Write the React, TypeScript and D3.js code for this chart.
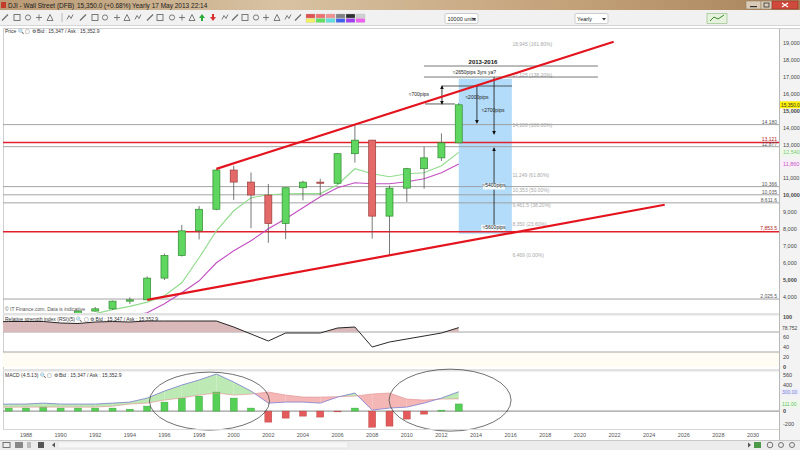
import React from "react";
import * as d3 from "d3";

// ---- Yearly Wall Street (DJI) candles ----
const YEARS = [1986, 1987, 1988, 1989, 1990, 1991, 1992, 1993, 1994, 1995, 1996, 1997, 1998, 1999, 2000, 2001, 2002, 2003, 2004, 2005, 2006, 2007, 2008, 2009, 2010, 2011, 2012, 2013];
const OPEN = [1547, 1896, 1939, 2169, 2753, 2634, 3169, 3301, 3754, 3834, 5117, 6448, 7908, 9181, 11497, 10787, 10021, 8341, 10453, 10783, 10717, 12463, 13264, 8776, 10428, 11577, 12217, 13104];
const HIGH = [1955, 2722, 2184, 2791, 3000, 3169, 3413, 3794, 3978, 5216, 6560, 8259, 9374, 11568, 11750, 11350, 10673, 10462, 10868, 10984, 12510, 14198, 13279, 10580, 11625, 12876, 13661, 15450];
const LOW = [1502, 1739, 1879, 2144, 2365, 2470, 3136, 3241, 3593, 3832, 5000, 6391, 7400, 9120, 9731, 8062, 7197, 7416, 9708, 10000, 10667, 11939, 7449, 6470, 9614, 10404, 12035, 13100];
const CLOSE = [1896, 1939, 2169, 2753, 2634, 3169, 3301, 3754, 3834, 5117, 6448, 7908, 9181, 11497, 10787, 10021, 8341, 10453, 10783, 10717, 12463, 13264, 8776, 10428, 11577, 12217, 13104, 15350];

// ---- moving averages ----
const FAST_MA_YEARS = [1991, 1992, 1993, 1994, 1995, 1996, 1997, 1998, 1999, 2000, 2001, 2002, 2003, 2004, 2005, 2006, 2007, 2008, 2009, 2010, 2011, 2012, 2013];
const FAST_MA = [2850, 3020, 3250, 3450, 3700, 4073, 4840, 6317, 7912, 9093, 9861, 10038, 10097, 10100, 10110, 10629, 11574, 11279, 11102, 11279, 11338, 11750, 12540];
const SLOW_MA_YEARS = [1994, 1995, 1996, 1997, 1998, 1999, 2000, 2001, 2002, 2003, 2004, 2005, 2006, 2007, 2008, 2009, 2010, 2011, 2012, 2013];
const SLOW_MA = [2850, 3070, 3600, 4250, 4959, 6022, 6731, 7322, 8030, 8621, 9270, 9920, 10452, 10747, 10688, 10688, 10806, 10984, 11338, 11860];

// ---- RSI(5) ----
const RSI = [90, 91, 91, 91, 88, 87, 90, 91, 90, 92, 92, 92, 92, 92, 80, 66, 52, 68, 68, 68, 78, 80, 40, 50, 56, 62, 68, 78.752];

// ---- MACD(4,5,13) ----
const MACD_YEARS = [1986, 1987, 1988, 1989, 1990, 1991, 1992, 1993, 1994, 1995, 1996, 1997, 1998, 1999, 2000, 2001, 2002, 2003, 2004, 2005, 2006, 2007, 2008, 2009, 2010, 2011, 2012, 2013];
const MACD = [100, 109, 109, 124, 109, 109, 109, 124, 140, 202, 311, 404, 482, 575, 451, 311, 124, 140, 140, 124, 218, 280, 16, 47, 62, 124, 202, 300];
const MACD_HIST = [40, 47, 47, 62, 47, 47, 47, 47, 30, 78, 140, 200, 233, 295, 202, 47, -171, -109, -78, -93, -5, 47, -250, -233, -124, -47, 15, 111];

// ---- axes ----
const X_TICKS = [1988, 1990, 1992, 1994, 1996, 1998, 2000, 2002, 2004, 2006, 2008, 2010, 2012, 2014, 2016, 2018, 2020, 2022, 2024, 2026, 2028, 2030];
const PRICE_TICKS = [4000, 5000, 6000, 7000, 8000, 9000, 10000, 11000, 13000, 14000, 15000, 16000, 17000, 18000, 19000];
const PRICE_BOLD = [5000, 10000, 15000];
const RSI_TICKS = [0, 20, 40, 60, 100];
const RSI_BANDS = [30, 70];
const MACD_TICKS = [-200, 0, 400, 560];

// ---- horizontal levels ----
const LEVEL_VALUES = [14180, 12877, 10520, 10035, 9560, 3880];
const LEVEL_LABELS = ["14,180", "12,877", "10,366", "10,035", "8,611.6", "2,025.5"];
const RED_LEVEL_VALUES = [13121, 7853.5];
const RED_LEVEL_LABELS = ["13,121", "7,853.5"];

// ---- Fibonacci extension ----
const FIB_VALUES = [18945, 17125, 14180, 11234, 10325, 9415, 8289, 6469];
const FIB_LABELS = ["18,945 (161.80%)", "17,125 (138.20%)", "14,180 (100.00%)", "11,249 (61.80%)", "10,353 (50.00%)", "9,461.5 (38.20%)", "8,350 (23.60%)", "6,469 (0.00%)"];

// ---- trend channel (year, price) ----
const UPPER_TREND = [[1999, 11568], [2021.95, 19075]];
const LOWER_TREND = [[1995, 3832], [2024.9, 9450]];

const FONT = "'Liberation Sans', Arial, sans-serif";

type Pt = [number, number];

function fillBetween(xs: number[], a: number[], b: number[]) {
  const polys: { up: boolean; pts: Pt[] }[] = [];
  for (let i = 0; i < xs.length - 1; i++) {
    const x0 = xs[i], x1 = xs[i + 1];
    const a0 = a[i], a1 = a[i + 1], b0 = b[i], b1 = b[i + 1];
    const d0 = b0 - a0, d1 = b1 - a1; // pixel space: a above b when a < b
    if (d0 * d1 < 0) {
      const t = d0 / (d0 - d1);
      const xm = x0 + t * (x1 - x0);
      const ym = a0 + t * (a1 - a0);
      polys.push({ up: d0 > 0, pts: [[x0, a0], [xm, ym], [x0, b0]] });
      polys.push({ up: d1 > 0, pts: [[xm, ym], [x1, a1], [x1, b1]] });
    } else {
      polys.push({ up: d0 + d1 >= 0, pts: [[x0, a0], [x1, a1], [x1, b1], [x0, b0]] });
    }
  }
  return polys;
}

function ToolIcon({ x, kind }: { x: number; kind: number }) {
  const c = "#6d6d6d";
  const y = 17.5;
  switch (kind % 6) {
    case 0:
      return <path d={`M${x - 3},${y + 3} L${x + 3},${y - 3}`} stroke={c} strokeWidth={1.2} />;
    case 1:
      return <rect x={x - 3} y={y - 3} width={6} height={6} fill="none" stroke={c} strokeWidth={0.9} />;
    case 2:
      return <circle cx={x} cy={y} r={2.6} fill="none" stroke={c} strokeWidth={0.9} />;
    case 3:
      return <path d={`M${x - 3},${y} L${x + 3},${y} M${x},${y - 3} L${x},${y + 3}`} stroke={c} strokeWidth={0.9} />;
    case 4:
      return <path d={`M${x - 3},${y + 3} L${x},${y - 3} L${x + 3},${y + 3} Z`} fill="none" stroke={c} strokeWidth={0.9} />;
    default:
      return <path d={`M${x - 3},${y + 2} L${x - 1},${y - 2} L${x + 1},${y + 1} L${x + 3},${y - 3}`} fill="none" stroke={c} strokeWidth={0.9} />;
  }
}

export default function App() {
  const W = 800, H = 450;
  const AX = 779; // right edge of plotting area
  const x = d3.scaleLinear().domain([1988, 2030]).range([26, 753]);
  const yP = d3.scaleLinear().domain([4000, 19000]).range([297, 43]);
  const yR = d3.scaleLinear().domain([0, 100]).range([367, 317]);
  const yM = d3.scaleLinear().domain([-200, 560]).range([424, 375]);

  const fmt = d3.format(",");
  const bodyW = 7;

  const maLine = d3.line<[number, number]>().x(d => x(d[0])).y(d => yP(d[1]));
  const fastPath = maLine(FAST_MA_YEARS.map((yr, i) => [yr, FAST_MA[i]]))!;
  const slowPath = maLine(SLOW_MA_YEARS.map((yr, i) => [yr, SLOW_MA[i]]))!;

  const rsiPts: [number, number][] = YEARS.map((yr, i) => [yr, RSI[i]]);
  const rsiLine = d3.line<[number, number]>().x(d => x(d[0])).y(d => yR(d[1]))(rsiPts)!;
  const rsiArea = d3.area<[number, number]>().x(d => x(d[0])).y0(yR(70)).y1(d => yR(d[1]))(rsiPts)!;

  const macdX = MACD_YEARS.map(yr => x(yr));
  const macdY = MACD.map(v => yM(v));
  const sigY = MACD.map((v, i) => yM(v - MACD_HIST[i]));
  const macdPolys = fillBetween(macdX, macdY, sigY);
  const macdLine = d3.line<number>().x((_, i) => macdX[i]).y(d => d);

  const trend = d3.line<number[]>().x(d => x(d[0])).y(d => yP(d[1]));

  const tiny = { fontFamily: FONT, fontSize: 5 } as const;

  // annotation geometry in year / price units
  const blueRect = { x0: 2013.0, x1: 2016.07, p0: 16890, p1: 7740 };

  const toolIcons = [5, 17, 28, 39, 50, 70, 83, 95, 105, 117, 127, 138, 150, 160, 172, 182, 192, 225, 235, 245, 256, 266, 277, 288, 298];
  const palette = ["#e05050", "#f07070", "#f09090", "#808080", "#303030", "#d0d0d0", "#f0f060", "#60e060", "#60e0e0", "#4060f0", "#a040f0", "#f060f0"];

  return (
    <svg width={W} height={H} style={{ position: "absolute", left: 0, top: 0, background: "#fff" }}>
      <defs>
        <linearGradient id="titleGrad" x1="0" x2="1" y1="0" y2="0">
          <stop offset="0" stopColor="#b99a74" />
          <stop offset="0.35" stopColor="#d8c2a2" />
          <stop offset="0.7" stopColor="#c4a27a" />
          <stop offset="1" stopColor="#a8845c" />
        </linearGradient>
        <clipPath id="pricePanel">
          <rect x={3} y={28} width={AX - 3} height={285} />
        </clipPath>
        <clipPath id="rsiPanel">
          <rect x={3} y={316} width={AX - 3} height={53} />
        </clipPath>
        <clipPath id="rsiAbove">
          <rect x={3} y={316} width={AX - 3} height={yR(70) - 316} />
        </clipPath>
        <clipPath id="macdPanel">
          <rect x={3} y={371} width={AX - 3} height={58} />
        </clipPath>
        <marker id="arr" viewBox="0 0 6 6" refX="5" refY="3" markerWidth="5" markerHeight="5" orient="auto-start-reverse">
          <path d="M0,0 L6,3 L0,6 Z" fill="#111" />
        </marker>
      </defs>

      {/* window title bar */}
      <rect x={0} y={0} width={W} height={10} fill="url(#titleGrad)" />
      <rect x={1} y={2} width={5} height={6} fill="#c23b2b" />
      <text x={8} y={7.5} style={{ fontFamily: FONT, fontSize: 6.5 }} fill="#222">
        DJI - Wall Street (DFB)
      </text>
      <text x={77} y={7.5} style={{ fontFamily: FONT, fontSize: 6.5 }} fill="#222">
        15,350.0 (+0.68%)
      </text>
      <text x={132} y={7.5} style={{ fontFamily: FONT, fontSize: 6.5 }} fill="#222">
        Yearly  17 May 2013 22:14
      </text>
      <rect x={746} y={1} width={15} height={8} fill="#d9cbb7" stroke="#8f7a5e" strokeWidth={0.5} />
      <rect x={750} y={6} width={7} height={1.2} fill="#333" />
      <rect x={761} y={1} width={11} height={8} fill="#d9cbb7" stroke="#8f7a5e" strokeWidth={0.5} />
      <rect x={764} y={3} width={5} height={4} fill="none" stroke="#333" strokeWidth={0.8} />
      <rect x={772} y={1} width={26} height={8} fill="#cf4a3c" stroke="#8a2a20" strokeWidth={0.5} />
      <path d="M782,3 L788,7 M788,3 L782,7" stroke="#fff" strokeWidth={1.1} />

      {/* toolbar */}
      <rect x={0} y={10} width={W} height={16} fill="#f1f1f1" />
      <line x1={0} x2={W} y1={25.5} y2={25.5} stroke="#d6d6d6" />
      {toolIcons.map((tx, i) => (
        <ToolIcon key={i} x={tx} kind={i} />
      ))}
      <line x1={62} x2={62} y1={13} y2={22} stroke="#aaa" strokeWidth={0.8} />
      <path d="M202,14 L205,18 L203,18 L203,21 L201,21 L201,18 L199,18 Z" fill="#2eaa3a" />
      <path d="M213,21 L216,17 L214,17 L214,14 L212,14 L212,17 L210,17 Z" fill="#d83030" />
      {palette.map((c, i) => (
        <rect key={c} x={306 + (i % 6) * 10} y={i < 6 ? 14 : 18.5} width={9} height={4} fill={c} stroke="#bbb" strokeWidth={0.3} />
      ))}
      <rect x={445} y={13.5} width={33} height={10} rx={1.5} fill="#fff" stroke="#b9b9b9" strokeWidth={0.7} />
      <text x={447.5} y={20.6} style={{ fontFamily: FONT, fontSize: 5.5 }} fill="#222">10000 units</text>
      <path d="M472,18 L476,18 L474,20.5 Z" fill="#333" />
      <rect x={575} y={13.5} width={33} height={10} rx={1.5} fill="#fff" stroke="#b9b9b9" strokeWidth={0.7} />
      <text x={577} y={20.6} style={{ fontFamily: FONT, fontSize: 5.5 }} fill="#222">Yearly</text>
      <path d="M602,18 L606,18 L604,20.5 Z" fill="#333" />
      <rect x={707} y={13.5} width={20} height={10} fill="#e5f2dc" stroke="#9bbf8a" strokeWidth={0.7} />
      <path d="M710,21 L714,17 L718,19 L724,15" stroke="#3a8a2a" strokeWidth={1} fill="none" />

      {/* plotting surfaces */}
      <rect x={3} y={28} width={AX - 3} height={412} fill="#fff" />
      <rect x={AX} y={28} width={W - AX} height={412} fill="#f3f3f3" />
      <line x1={AX + 0.5} x2={AX + 0.5} y1={28} y2={440} stroke="#b8b8b8" />
      <line x1={3.5} x2={3.5} y1={28} y2={430} stroke="#d0d0d0" />
      <line x1={3} x2={W} y1={28.5} y2={28.5} stroke="#d0d0d0" />

      {/* ===== price panel ===== */}
      <g clipPath="url(#pricePanel)">
        <rect
          x={x(blueRect.x0)}
          y={yP(blueRect.p0)}
          width={x(blueRect.x1) - x(blueRect.x0)}
          height={yP(blueRect.p1) - yP(blueRect.p0)}
          fill="#b3dcfa"
        />
        {LEVEL_VALUES.map((v, i) => (
          <line key={i} x1={3} x2={AX} y1={yP(v)} y2={yP(v)} stroke="#9a9a9a" strokeWidth={0.9} />
        ))}
        {RED_LEVEL_VALUES.map((v, i) => (
          <line key={i} x1={3} x2={AX} y1={yP(v)} y2={yP(v)} stroke="#e0202c" strokeWidth={1.6} />
        ))}
        {FIB_VALUES.map((v, i) => (
          <text key={i} x={x(2016.1)} y={yP(v) + 2} style={tiny} fill="#a9a9a9">
            {FIB_LABELS[i]}
          </text>
        ))}

        {/* 2013-2016 projection annotations */}
        <line x1={x(2010.99)} x2={x(2021.04)} y1={yP(17640)} y2={yP(17640)} stroke="#555" strokeWidth={0.8} />
        <line x1={x(2010.99)} x2={x(2021.04)} y1={yP(16990)} y2={yP(16990)} stroke="#555" strokeWidth={0.8} />
        <line x1={x(2012.03)} x2={x(2016.08)} y1={yP(16460)} y2={yP(16460)} stroke="#333" strokeWidth={0.8} />
        <line x1={x(2011.05)} x2={x(2012.78)} y1={yP(15400)} y2={yP(15400)} stroke="#333" strokeWidth={0.8} />
        <line x1={x(2012.03)} x2={x(2012.03)} y1={yP(16460)} y2={yP(15400)} stroke="#111" strokeWidth={0.8} markerStart="url(#arr)" markerEnd="url(#arr)" />
        <line x1={x(2014.05)} x2={x(2014.05)} y1={yP(16460)} y2={yP(14270)} stroke="#111" strokeWidth={0.8} markerEnd="url(#arr)" />
        <line x1={x(2015.04)} x2={x(2015.04)} y1={yP(16990)} y2={yP(13620)} stroke="#111" strokeWidth={0.8} markerEnd="url(#arr)" />
        <line x1={x(2015.04)} x2={x(2015.04)} y1={yP(12800)} y2={yP(7930)} stroke="#111" strokeWidth={0.8} markerStart="url(#arr)" markerEnd="url(#arr)" />
        <text x={x(2014.4)} y={yP(17760)} textAnchor="middle" style={{ fontFamily: FONT, fontSize: 6, fontWeight: "bold" }} fill="#111">
          2013-2016
        </text>
        <text x={x(2013.9)} y={yP(17150)} textAnchor="middle" style={tiny} fill="#222">≈2650pips 3yrs ya?</text>
        <text x={x(2010.7)} y={yP(15870)} textAnchor="middle" style={tiny} fill="#222">≈700pips</text>
        <text x={x(2014.05)} y={yP(15690)} textAnchor="middle" style={tiny} fill="#222">≈2000pips</text>
        <text x={x(2014.98)} y={yP(14900)} textAnchor="middle" style={tiny} fill="#222">≈2700pips</text>
        <rect x={x(2014.4)} y={yP(10700)} width={22} height={6} fill="#f4fbff" />
        <text x={x(2015.04)} y={yP(10480)} textAnchor="middle" style={tiny} fill="#222">≈5400pips</text>
        <rect x={x(2014.3)} y={yP(8260)} width={24} height={6} fill="#f4fbff" />
        <text x={x(2015.04)} y={yP(8040)} textAnchor="middle" style={tiny} fill="#222">≈5600pips</text>

        {/* moving averages */}
        <path d={slowPath} fill="none" stroke="#c24fc2" strokeWidth={1.1} />
        <path d={fastPath} fill="none" stroke="#92dc8e" strokeWidth={1.2} />

        {/* candles */}
        {YEARS.map((yr, i) => {
          const up = CLOSE[i] >= OPEN[i];
          const cx = x(yr);
          const top = yP(Math.max(OPEN[i], CLOSE[i]));
          const bot = yP(Math.min(OPEN[i], CLOSE[i]));
          return (
            <g key={yr}>
              <line x1={cx} x2={cx} y1={yP(HIGH[i])} y2={yP(LOW[i])} stroke="#555" strokeWidth={0.8} />
              <rect
                x={cx - bodyW / 2}
                y={top}
                width={bodyW}
                height={Math.max(1, bot - top)}
                fill={up ? "#5fd65f" : "#e46a6a"}
                stroke={up ? "#2f8a2f" : "#9a3b3b"}
                strokeWidth={0.7}
              />
            </g>
          );
        })}

        {/* trend channel */}
        <path d={trend(UPPER_TREND)!} stroke="#e3141e" strokeWidth={2.2} fill="none" />
        <path d={trend(LOWER_TREND)!} stroke="#e3141e" strokeWidth={2.2} fill="none" />

        {/* level labels */}
        {LEVEL_VALUES.map((v, i) => (
          <text key={i} x={AX - 2} y={yP(v) - 1} textAnchor="end" style={tiny} fill="#555">
            {LEVEL_LABELS[i]}
          </text>
        ))}
        {RED_LEVEL_VALUES.map((v, i) => (
          <text key={i} x={AX - 2} y={yP(v) - 1.5} textAnchor="end" style={tiny} fill="#b02020">
            {RED_LEVEL_LABELS[i]}
          </text>
        ))}

        <text x={5} y={311} style={{ fontFamily: FONT, fontSize: 5 }} fill="#555">
          © IT Finance.com. Data is indicative
        </text>
      </g>
      <text x={5} y={33} style={{ fontFamily: FONT, fontSize: 5 }} fill="#333">
        Price 🔍 ▢ ⚙ Bid : 15,347 / Ask : 15,352.9
      </text>

      {/* price axis */}
      {PRICE_TICKS.map(v => (
        <text
          key={v}
          x={783}
          y={yP(v) + 2}
          style={{ fontFamily: FONT, fontSize: 5.5, fontWeight: PRICE_BOLD.includes(v) ? "bold" : "normal" }}
          fill="#444"
        >
          {fmt(v)}
        </text>
      ))}
      <rect x={780} y={yP(15350) - 3.5} width={20} height={7} fill="#fff200" />
      <text x={781} y={yP(15350) + 2} style={{ fontFamily: FONT, fontSize: 4.8 }} fill="#333">15,350.0</text>
      <rect x={780} y={yP(12540) - 3.5} width={20} height={7} fill="#eef9ea" />
      <text x={783} y={yP(12540) + 2} style={{ fontFamily: FONT, fontSize: 5.5 }} fill="#7cc77a">{fmt(12540)}</text>
      <rect x={780} y={yP(11860) - 3.5} width={20} height={7} fill="#fbecfb" />
      <text x={783} y={yP(11860) + 2} style={{ fontFamily: FONT, fontSize: 5.5 }} fill="#c060c0">{fmt(11860)}</text>

      {/* panel separators */}
      <rect x={3} y={313} width={AX - 3} height={2.5} fill="#e2e2e2" />
      <rect x={3} y={369} width={AX - 3} height={2.5} fill="#e2e2e2" />

      {/* ===== RSI panel ===== */}
      <rect x={3} y={yR(30)} width={AX - 3} height={yR(0) - yR(30)} fill="#fffdf3" />
      {RSI_BANDS.map(v => (
        <line key={v} x1={3} x2={AX} y1={yR(v)} y2={yR(v)} stroke="#9a9a9a" strokeWidth={0.9} />
      ))}
      <g clipPath="url(#rsiPanel)">
        <path d={rsiArea} fill="#d9b9b9" clipPath="url(#rsiAbove)" />
        <path d={rsiLine} fill="none" stroke="#111" strokeWidth={0.9} />
      </g>
      <text x={5} y={320.5} style={{ fontFamily: FONT, fontSize: 5 }} fill="#333">
        Relative strength index (RSI)(5) 🔍 ▢ ⚙ Bid : 15,347 / Ask : 15,352.9
      </text>
      {RSI_TICKS.map(v => (
        <text key={v} x={783} y={yR(v) + 2} style={{ fontFamily: FONT, fontSize: 5.5, fontWeight: v === 100 || v === 0 ? "bold" : "normal" }} fill="#444">
          {v}
        </text>
      ))}
      <text x={782} y={yR(78.752) + 2} style={{ fontFamily: FONT, fontSize: 5 }} fill="#444">78.752</text>

      {/* ===== MACD panel ===== */}
      <g clipPath="url(#macdPanel)">
        {macdPolys.map((p, i) => (
          <path key={i} d={"M" + p.pts.map(q => q.join(",")).join("L") + "Z"} fill={p.up ? "#bde9b4" : "#f5b6b6"} />
        ))}
        <line x1={3} x2={AX} y1={yM(0)} y2={yM(0)} stroke="#777" strokeWidth={0.9} />
        {MACD_YEARS.map((yr, i) => {
          const v = MACD_HIST[i];
          const y0 = yM(Math.max(0, v));
          const y1 = yM(Math.min(0, v));
          return (
            <rect
              key={yr}
              x={x(yr) - bodyW / 2}
              y={y0}
              width={bodyW}
              height={Math.max(0.8, y1 - y0)}
              fill={v >= 0 ? "#55cf55" : "#e45a5a"}
              stroke={v >= 0 ? "#3aa03a" : "#b04040"}
              strokeWidth={0.4}
            />
          );
        })}
        <path d={macdLine(sigY)!} fill="none" stroke="#e39a9a" strokeWidth={0.7} />
        <path d={macdLine(macdY)!} fill="none" stroke="#7b7bcf" strokeWidth={0.8} />
      </g>
      {/* highlight ellipses around the two MACD swings */}
      <ellipse cx={x(1998.6)} cy={yM(155)} rx={60} ry={29} fill="none" stroke="#333" strokeWidth={0.7} />
      <ellipse cx={x(2012.5)} cy={yM(170)} rx={61} ry={31} fill="none" stroke="#333" strokeWidth={0.7} />
      <text x={5} y={377} style={{ fontFamily: FONT, fontSize: 5 }} fill="#333">
        MACD (4.5.13) 🔍 ▢ ⚙ Bid : 15,347 / Ask : 15,352.9
      </text>
      {MACD_TICKS.map(v => (
        <text key={v} x={783} y={yM(v) + 2} style={{ fontFamily: FONT, fontSize: 5.5, fontWeight: v === 0 ? "bold" : "normal" }} fill="#444">
          {v}
        </text>
      ))}
      <rect x={781} y={yM(300) - 3.5} width={19} height={7} fill="#eef0fb" />
      <text x={782} y={yM(300) + 2} style={{ fontFamily: FONT, fontSize: 5 }} fill="#7b7bcf">300.00</text>
      <rect x={781} y={yM(111) - 3.5} width={19} height={7} fill="#eef9ea" />
      <text x={782} y={yM(111) + 2} style={{ fontFamily: FONT, fontSize: 5 }} fill="#6cbf6a">111.00</text>

      {/* x axis */}
      <line x1={3} x2={AX} y1={429.5} y2={429.5} stroke="#d8d8d8" />
      {X_TICKS.map(t => (
        <text key={t} x={x(t)} y={436.5} textAnchor="middle" style={{ fontFamily: FONT, fontSize: 5.5 }} fill="#555">
          {t}
        </text>
      ))}

      {/* status bar */}
      <rect x={0} y={440} width={W} height={10} fill="#ececec" />
      <line x1={0} x2={W} y1={440.5} y2={440.5} stroke="#c8c8c8" />
      <rect x={3} y={442.5} width={7} height={5} fill="none" stroke="#555" strokeWidth={0.8} />
      <rect x={15} y={442} width={8} height={6} fill="#888" />
      <rect x={27} y={442} width={4} height={6} fill="#bbb" />
      <rect x={38} y={442} width={6} height={6} fill="#555" />
      <path d="M52,445 L55,442.5 L55,447.5 Z" fill="#555" />
      <rect x={58} y={442} width={290} height={6} fill="#f6f6f6" stroke="#dadada" strokeWidth={0.5} />
      <path d="M748,442.5 L751,445 L748,447.5 Z" fill="#555" />
      <rect x={754} y={442} width={7} height={6} fill="#4c9a48" />
      <circle cx={770} cy={445} r={2.8} fill="none" stroke="#555" strokeWidth={0.8} />
      <circle cx={781} cy={445} r={2.5} fill="none" stroke="#555" strokeWidth={0.8} />
      <circle cx={792} cy={445} r={2.5} fill="none" stroke="#555" strokeWidth={0.8} />
    </svg>
  );
}
